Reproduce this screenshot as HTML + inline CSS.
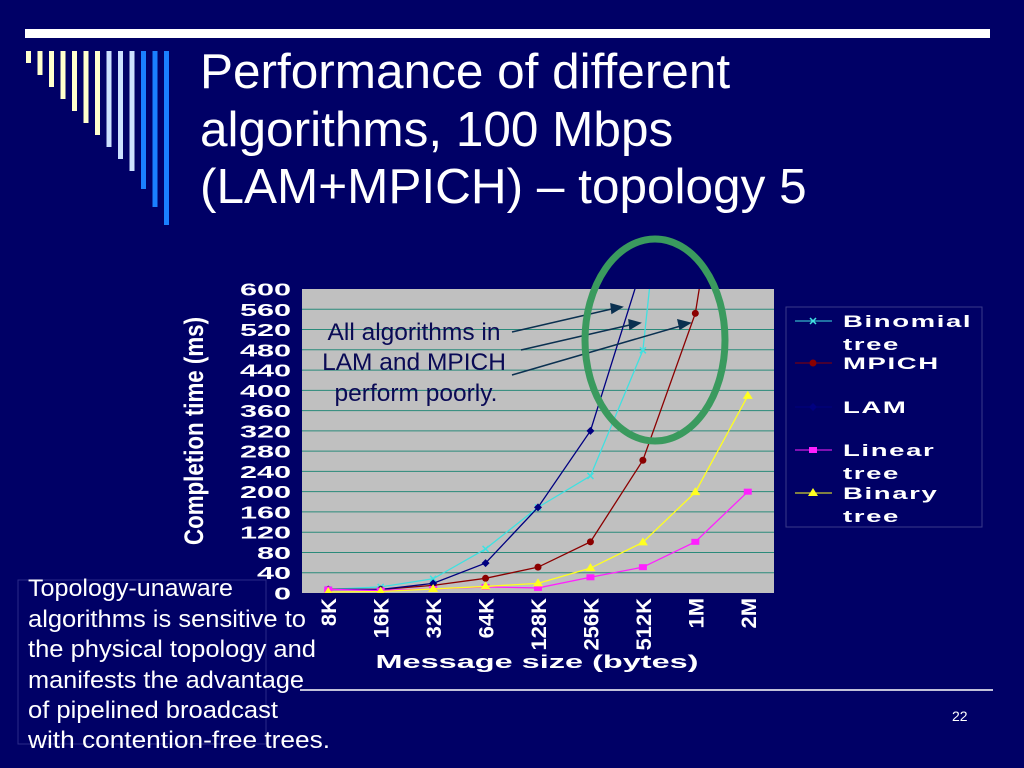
<!DOCTYPE html>
<html><head><meta charset="utf-8"><style>
html,body{margin:0;padding:0;background:#000066;width:1024px;height:768px;overflow:hidden;font-family:"Liberation Sans",sans-serif}
</style></head><body>
<svg width="1024" height="768" xmlns="http://www.w3.org/2000/svg" style="position:absolute;left:0;top:0">
<rect width="1024" height="768" fill="#000066"/>
<rect x="25" y="29" width="965" height="9" fill="#ffffff"/>
<g id="deco"></g>
<g font-family="Liberation Sans, sans-serif" font-size="49.5" fill="#ffffff">
<text x="200" y="88">Performance of different</text>
<text x="200" y="146">algorithms, 100 Mbps</text>
<text x="200" y="203">(LAM+MPICH) – topology 5</text>
</g>
<defs><clipPath id="pc"><rect x="302" y="289" width="472" height="304"/></clipPath></defs>
<rect x="302" y="289" width="472" height="304" fill="#c0c0c0"/>
<g id="grid"></g>
<g id="yticks" font-family="Liberation Sans, sans-serif" font-weight="bold" font-size="18" fill="#ffffff" text-anchor="end"></g>
<g id="xticks" font-family="Liberation Sans, sans-serif" font-weight="bold" font-size="22" fill="#ffffff"></g>
<text x="537" y="668" text-anchor="middle" font-weight="bold" font-size="18" fill="#ffffff" textLength="323" lengthAdjust="spacingAndGlyphs">Message size (bytes)</text>
<text transform="translate(203,431) rotate(-90)" text-anchor="middle" font-weight="bold" font-size="27" fill="#ffffff" textLength="228" lengthAdjust="spacingAndGlyphs">Completion time (ms)</text>
<g id="series" clip-path="url(#pc)"></g>
<g font-size="24.5" fill="#0a0a55" text-anchor="middle">
<text x="414" y="340">All algorithms in</text>
<text x="414" y="370">LAM and MPICH</text>
<text x="416" y="401">perform poorly.</text>
</g>
<g stroke="#0a3050" stroke-width="1.5" fill="#0a3050">
<line x1="512" y1="332" x2="616" y2="308"/><polygon points="622,307 612,313 611,304"/>
<line x1="521" y1="350" x2="634" y2="324"/><polygon points="640,323 630,329 629,320"/>
<line x1="512" y1="375" x2="684" y2="325"/><polygon points="690,323 680,329 678,320"/>
</g>
<ellipse cx="655" cy="340" rx="70" ry="101" fill="none" stroke="#3a9a5e" stroke-width="7"/>
<rect x="786" y="307" width="196" height="220" fill="#000066" stroke="#3a3a8a" stroke-width="1"/>
<g id="legend" font-weight="bold" font-size="17" fill="#ffffff" letter-spacing="1"></g>
<rect x="18" y="580" width="248" height="164" fill="none" stroke="#2a2a88" stroke-width="1"/>
<g font-size="24" fill="#ffffff">
<text x="28" y="596" textLength="205" lengthAdjust="spacingAndGlyphs">Topology-unaware</text>
<text x="28" y="627" textLength="278" lengthAdjust="spacingAndGlyphs">algorithms is sensitive to</text>
<text x="28" y="657" textLength="288" lengthAdjust="spacingAndGlyphs">the physical topology and</text>
<text x="28" y="688" textLength="276" lengthAdjust="spacingAndGlyphs">manifests the advantage</text>
<text x="28" y="718" textLength="250" lengthAdjust="spacingAndGlyphs">of pipelined broadcast</text>
<text x="28" y="748" textLength="302" lengthAdjust="spacingAndGlyphs">with  contention-free trees.</text>
</g>
<line x1="300" y1="690" x2="993" y2="690" stroke="#ffffff" stroke-width="1.5"/>
<text x="952" y="721" font-size="14" fill="#ffffff">22</text>
</svg>
<script>
const categories=["8K","16K","32K","64K","128K","256K","512K","1M","2M"];
const yTicks=[0,40,80,120,160,200,240,280,320,360,400,440,480,520,560,600];
const binomial=[7,12,28,87,169,231,479,1450,2500];
const mpich=[7,7,15,29,51,101,262,552,1200];
const lam=[7,7,19,59,169,320,650,1300,2500];
const linear=[7,5,8,12,10,31,51,101,200];
const binary=[2,3,8,13,19,49,100,199,389];
const NS="http://www.w3.org/2000/svg";
const X0=302,W=472,Y0=593,H=304,YMAX=600;
const xs=i=>X0+W/categories.length*(i+0.5);
const ys=v=>Y0-v/YMAX*H;
function mk(t,a,p){const e=document.createElementNS(NS,t);for(const k in a)e.setAttribute(k,a[k]);p.appendChild(e);return e;}
const deco=document.getElementById('deco');
const dcols=["#ffffcc","#ffffcc","#ffffcc","#ffffcc","#ffffcc","#ffffcc","#ffffcc","#cce0ff","#cce0ff","#cce0ff","#1a80ff","#1a80ff","#1a80ff"];
dcols.forEach((c,i)=>{const r=mk('rect',{x:26+i*11.5,y:51,width:5,height:12+i*12+(i>=10?(i-9)*6:0),fill:c},deco);

});
const grid=document.getElementById('grid'),yt=document.getElementById('yticks');
yTicks.forEach(v=>{if(v>0&&v<YMAX){const l=mk('line',{x1:X0,x2:X0+W,y1:ys(v),y2:ys(v),stroke:'#2a8a7a','stroke-width':1},grid);

}
const t=mk('text',{transform:`translate(291,${ys(v)+6.5}) scale(1.7,1)`,x:0,y:0},yt);t.textContent=v;

});
const xt=document.getElementById('xticks');
categories.forEach((c,i)=>{const t=mk('text',{transform:`translate(${xs(i)+8},598) rotate(-90) scale(1,0.95)`,'text-anchor':'end'},xt);t.textContent=c;

});
const sg=document.getElementById('series');
function marker(type,x,y,col,g){let e;
if(type==='diamond')e=mk('polygon',{points:`${x},${y-4} ${x+4},${y} ${x},${y+4} ${x-4},${y}`,fill:col},g);
else if(type==='circle')e=mk('circle',{cx:x,cy:y,r:3.5,fill:col},g);
else if(type==='square')e=mk('rect',{x:x-4,y:y-3,width:8,height:6,fill:col},g);
else if(type==='tri')e=mk('polygon',{points:`${x},${y-5} ${x+5},${y+3} ${x-5},${y+3}`,fill:col},g);
else e=mk('path',{d:`M${x-3},${y-3}L${x+3},${y+3}M${x-3},${y+3}L${x+3},${y-3}`,stroke:col,'stroke-width':1.5},g);
return e;}
const series=[["binomial",binomial,"#40e0e0","x"],["mpich",mpich,"#8b0000","circle"],["lam",lam,"#000080","diamond"],["linear",linear,"#ff20ff","square"],["binary",binary,"#ffff20","tri"]];
series.forEach(([n,d,col,m])=>{const g=mk('g',{},sg);


mk('polyline',{points:d.map((v,i)=>xs(i)+','+ys(v)).join(' '),fill:'none',stroke:col,'stroke-width':1.3},g);
d.forEach((v,i)=>{const e=marker(m,xs(i),ys(v),col,g);

});});
const lg=document.getElementById('legend');


const legendItems=[["Binomial","tree","#40e0e0","x",321],["MPICH","","#8b0000","circle",363],["LAM","","#000080","diamond",407],["Linear","tree","#ff20ff","square",450],["Binary","tree","#ffff20","tri",493]];
legendItems.forEach(([a,b,col,m,y])=>{const g=mk('g',{},lg);


mk('line',{x1:795,x2:832,y1:y,y2:y,stroke:col,'stroke-width':1},g);
marker(m,813,y,col,g);
const t=mk('text',{transform:`translate(843,${y+6}) scale(1.62,1)`},g);t.textContent=a;
if(b){const t2=mk('text',{transform:`translate(843,${y+29}) scale(1.62,1)`},g);t2.textContent=b;}});
</script>
</body></html>
